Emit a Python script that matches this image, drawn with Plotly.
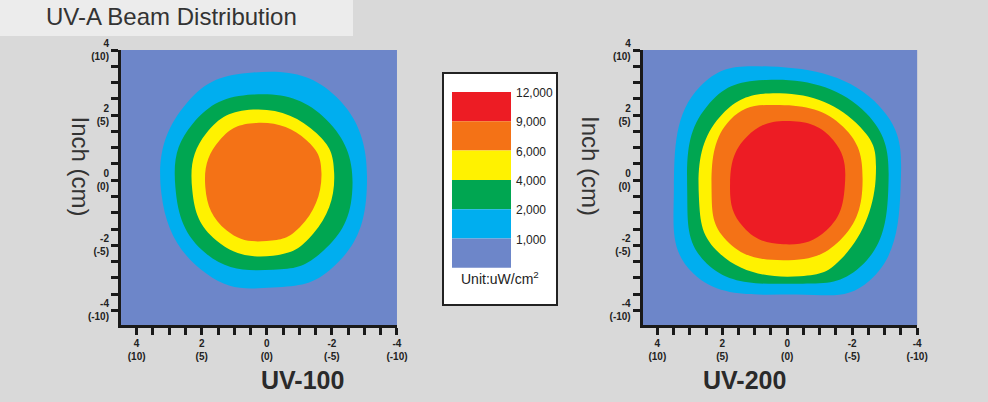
import plotly.graph_objects as go

# Contour outlines (inches), 8 points each: top, TR, R, BR, B, BL, L, TL
uv100_levels = ["2,000", "4,000", "6,000", "9,000"]
uv100_x = [
    [0.42, -2.14, -3.07, -2.04, -0.19, 1.86, 3.24, 2.47],
    [0.42, -1.84, -2.62, -1.63, -0.19, 1.86, 2.81, 2.27],
    [0.42, -1.53, -2.07, -1.43, -0.19, 1.55, 2.29, 1.86],
    [0.32, -1.22, -1.68, -1.02, 0.01, 1.24, 1.89, 1.45],
]
uv100_y = [
    [3.31, 2.56, -0.31, -2.67, -3.30, -2.87, -0.41, 2.36],
    [2.63, 1.85, -0.41, -2.26, -2.75, -2.26, -0.21, 1.74],
    [2.17, 1.44, 0.21, -1.64, -2.32, -1.85, -0.31, 1.44],
    [1.76, 1.23, 0.21, -1.44, -1.87, -1.54, -0.21, 1.23],
]
uv200_levels = ["2,000", "4,000", "6,000", "9,000", "12,000"]
uv200_x = [
    [0.53, -2.85, -3.49, -2.54, -0.29, 2.89, 3.49, 2.69],
    [0.64, -2.44, -3.11, -2.24, -0.18, 2.48, 3.08, 2.48],
    [0.23, -2.24, -2.73, -1.72, -0.39, 2.07, 2.72, 2.07],
    [0.23, -1.72, -2.32, -1.62, 0.12, 1.87, 2.33, 1.76],
    [-0.08, -1.42, -1.77, -1.21, 0.12, 1.35, 1.76, 1.25],
]
uv200_y = [
    [3.49, 2.26, -0.21, -3.08, -3.51, -2.87, -0.31, 2.87],
    [3.08, 2.05, -0.31, -2.67, -3.18, -2.56, -0.31, 2.26],
    [2.67, 1.64, 0.21, -2.36, -2.95, -2.26, -0.51, 1.95],
    [2.31, 1.64, 0.00, -1.85, -2.46, -1.85, -0.31, 1.85],
    [1.82, 1.23, -0.21, -1.54, -1.97, -1.44, -0.10, 1.33],
]
legend_labels = ["12,000", "9,000", "6,000", "4,000", "2,000", "1,000"]
tick_vals = [4, 2, 0, -2, -4]
tick_text = ["<b>4<br>(10)</b>", "<b>2<br>(5)</b>", "<b>0<br>(0)</b>", "<b>-2<br>(-5)</b>", "<b>-4<br>(-10)</b>"]

level_colors = {"1,000": "#6d86c9", "2,000": "#00aeef", "4,000": "#00a651",
                "6,000": "#fff200", "9,000": "#f47216", "12,000": "#ed1c24"}

fig = go.Figure()

def add_panel(xs, ys, levels, xa, ya):
    for lx, ly, lv in zip(xs, ys, levels):
        fig.add_trace(go.Scatter(x=lx + [lx[0]], y=ly + [ly[0]], mode="lines",
                                 line=dict(shape="spline", width=0, smoothing=1.3,
                                           color=level_colors[lv]),
                                 fill="toself", fillcolor=level_colors[lv],
                                 hoverinfo="skip", showlegend=False,
                                 xaxis=xa, yaxis=ya))

add_panel(uv100_x, uv100_y, uv100_levels, "x", "y")
add_panel(uv200_x, uv200_y, uv200_levels, "x2", "y2")

all_ticks = [4 - 0.5 * i for i in range(17)]
all_text = [tick_text[tick_vals.index(v)] if v in tick_vals else " " for v in all_ticks]

ax_common = dict(showgrid=False, zeroline=False, showline=True, linecolor="#1a1a1a",
                 linewidth=3, ticks="outside", ticklen=7, tickwidth=2.5, tickcolor="#1a1a1a",
                 tickvals=all_ticks, ticktext=all_text, automargin=False,
                 tickfont=dict(family="Liberation Sans", size=10, color="#222"))

fig.update_layout(
    template="none", width=988, height=402, margin=dict(l=0, r=0, t=0, b=0, pad=0),
    paper_bgcolor="#d9d9d9", plot_bgcolor=level_colors["1,000"],
    xaxis=dict(domain=[0.1225, 0.4018], range=[4.48, -4.0], **ax_common),
    yaxis=dict(domain=[0.1915, 0.8756], range=[-4.45, 4.0], **ax_common),
    xaxis2=dict(domain=[0.6505, 0.9283], range=[4.45, -4.0], anchor="y2", **ax_common),
    yaxis2=dict(domain=[0.1915, 0.8756], range=[-4.45, 4.0], anchor="x2", **ax_common),
)

shapes = [
    dict(type="rect", xref="paper", yref="paper", x0=0, x1=353/988, y0=1-36/402, y1=1,
         fillcolor="#ececec", line=dict(width=0), layer="below"),
    dict(type="rect", xref="paper", yref="paper", x0=443/988, x1=557/988, y0=1-305/402, y1=1-73/402,
         fillcolor="white", line=dict(color="#222", width=2)),
]
swatch_top = 92
swatch_h = 29.3
anns = []
for i, lab in enumerate(legend_labels):
    t = swatch_top + i * swatch_h
    shapes.append(dict(type="rect", xref="paper", yref="paper", x0=452/988, x1=511/988,
                       y0=1-(t+swatch_h)/402, y1=1-t/402, fillcolor=level_colors[lab], line=dict(width=0)))
    anns.append(dict(xref="paper", yref="paper", x=514/988, y=1-(t+1)/402, text=lab, showarrow=False,
                     xanchor="left", yanchor="middle", font=dict(family="Liberation Sans", size=12, color="#222")))
anns.append(dict(xref="paper", yref="paper", x=500/988, y=1-289/402, text="Unit:uW/cm<sup>2</sup>",
                 showarrow=False, font=dict(family="Liberation Sans", size=14, color="#222")))
anns.append(dict(xref="paper", yref="paper", x=44/988, y=1-17/402, text="UV-A Beam Distribution",
                 showarrow=False, xanchor="left", yanchor="middle",
                 font=dict(family="Liberation Sans", size=24, color="#333")))
for cx, lab in [(259, "UV-100"), (788, "UV-200")]:
    anns.append(dict(xref="paper", yref="paper", x=cx/988, y=1-380/402, text="<b>" + lab + "</b>",
                     showarrow=False, yanchor="middle",
                     font=dict(family="Liberation Sans", size=25, color="#2a2a2a")))
for cx in [65, 591]:
    anns.append(dict(xref="paper", yref="paper", x=cx/988, y=1-166/402, text="Inch (cm)", textangle=90,
                     showarrow=False, font=dict(family="Liberation Sans", size=24, color="#333")))
fig.update_layout(shapes=shapes, annotations=anns)
fig.write_html("out.html", config={"displayModeBar": False},
               post_script="document.body.style.margin='0';document.body.style.overflow='hidden';")
